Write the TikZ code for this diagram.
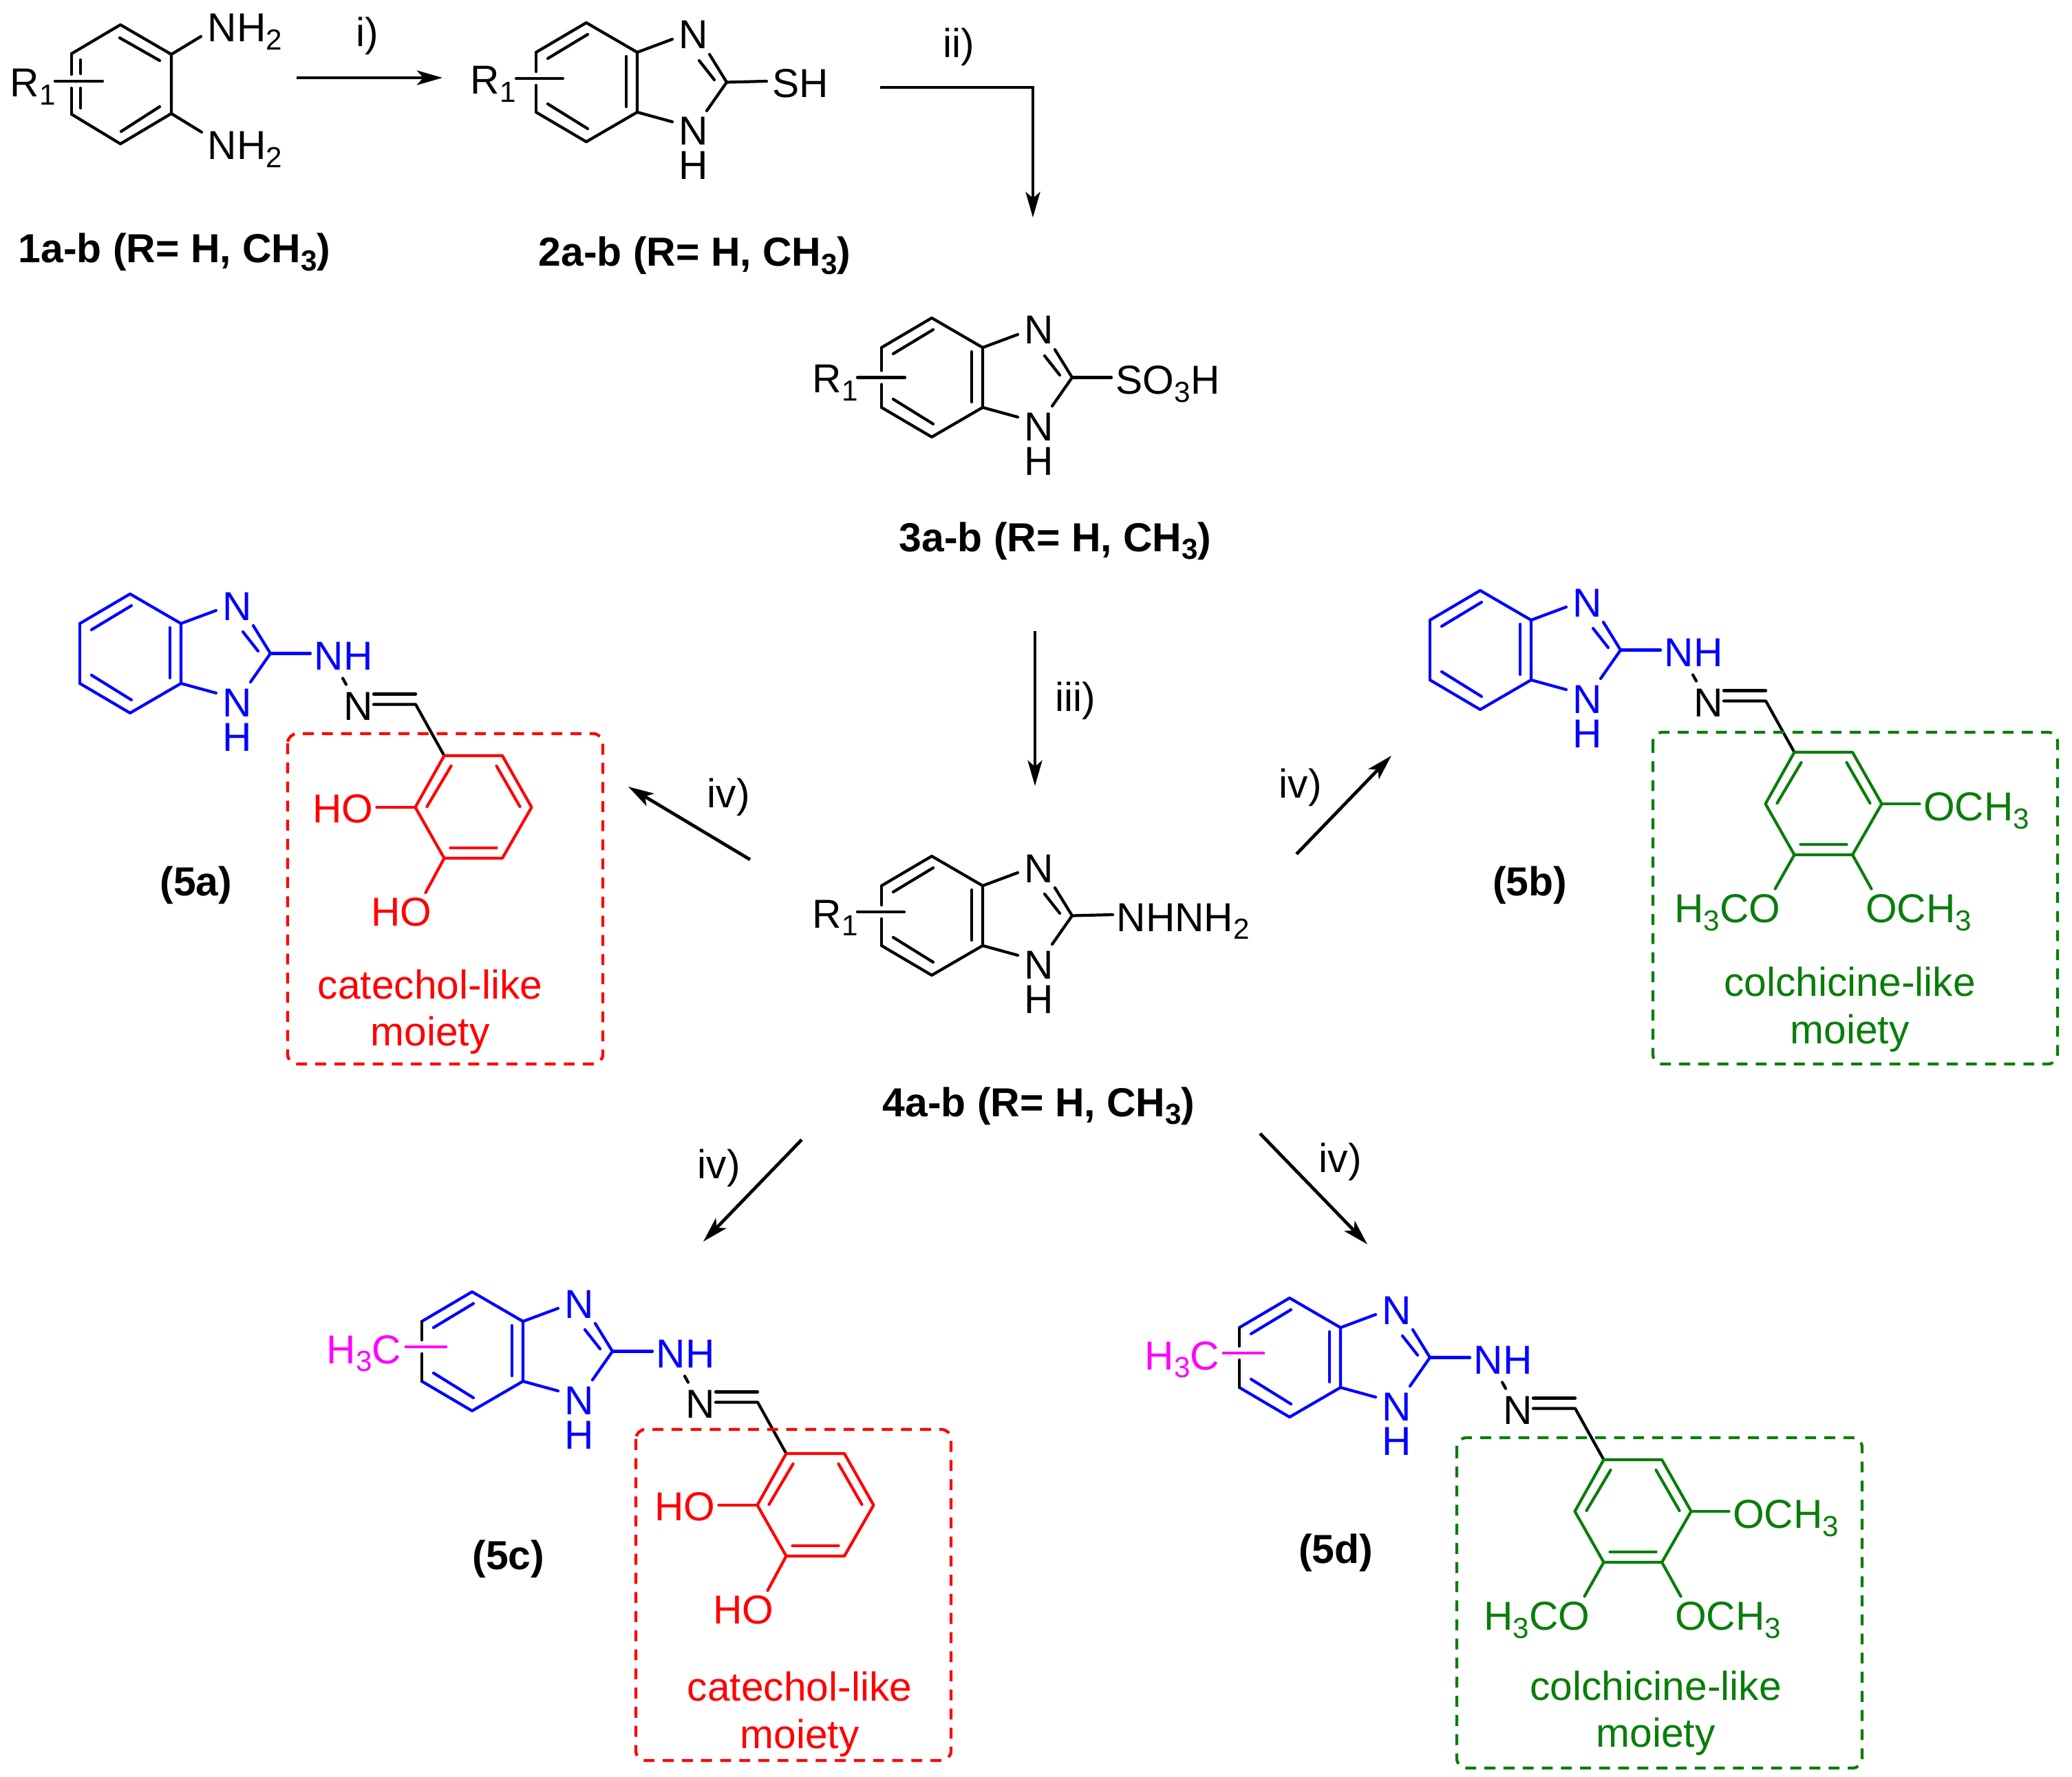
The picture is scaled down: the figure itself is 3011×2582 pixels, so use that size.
\documentclass[tikz,border=0pt]{standalone}
\usepackage{fontspec}
\setmainfont{Liberation Sans}
\usetikzlibrary{arrows.meta}
\definecolor{molblue}{HTML}{0000FF}
\definecolor{molred}{HTML}{FF0000}
\definecolor{molgreen}{HTML}{0A7D0A}
\definecolor{molpink}{HTML}{FF00FF}
\newcommand{\sbs}[1]{\raisebox{-0.2em}{\fontsize{12}{12}\selectfont #1}}
% benzimidazole: name, ring fusion point, colour (left bond of the ring is left out)
\newcommand{\benzim}[3]{
    \begin{scope}[shift={#2},name prefix=#1-,color=#3]
    \coordinate (ur) at (0,0);
    \coordinate (top) at (-74,-43);
    \coordinate (ul) at (-147,0);
    \coordinate (ll) at (-147,87);
    \coordinate (bot) at (-74,130);
    \coordinate (lr) at (0,87);
    \coordinate (c2) at (130,43.5);
    \node[atom] (n3) at (64,-5) {N};
    \node[atom] (n1) at (64,135) {N};
    \node[atom] (h1) at (64,185) {H};
    \draw[bond] (ul) -- (top) -- (ur) -- (lr) -- (bot) -- (ll);
    \draw[bond] (-130,9) -- (-72,-26);
    \draw[bond] (-130,75) -- (-72,111);
    \draw[bond] (-16,6) -- (-16,79);
    \draw[bond] (ur) -- (51,-19);
    \draw[bond] (lr) -- (51,101);
    \draw[bond] (105,3) -- (c2) -- (101,85);
    \draw[bond] (90,12) -- (112,40);
    \end{scope}
}
% left bond of the ring, broken for a substituent: name, height of the line, its two ends
\newcommand{\ringsub}[4]{
    \draw[bond] (#1-ul) -- ++(0,#2-10);
    \draw[bond] (#1-ll) -- ++(0,#2+10-87);
    \draw[bond] ([shift={(#3,#2)}]#1-ur) -- ([shift={(#4,#2)}]#1-ur);
}
% NH-N=CH chain on c2 of a benzimidazole
\newcommand{\hydrazone}[1]{
    \begin{scope}[shift={(#1-c2)},name prefix=#1-]
    \coordinate (a) at (252.5,148.5);
    \node[atom,molblue] (nh) at (67,23.5) {NH};
    \draw[bond,molblue] (0,0) -- (58,0);
    \node[atom] (nn) at (110,97) {N};
    \draw[bond] (105,36) -- (110,45);
    \draw[bond] (150,59) -- (211,59);
    \draw[bond] (150,74) -- (211,74) -- (a);
    \end{scope}
}
% aryl ring hanging on the chain: name, colour
\newcommand{\aryl}[2]{
    \begin{scope}[shift={(#1-a)},name prefix=#1-,color=#2]
    \coordinate (b) at (84.5,0);
    \coordinate (c) at (127,75);
    \coordinate (d) at (84.5,149);
    \coordinate (e) at (0,149);
    \coordinate (f) at (-42,75);
    \draw[bond] (0,0) -- (b) -- (c) -- (d) -- (e) -- (f) -- cycle;
    \draw[bond] (10,15) -- (-25,74);
    \draw[bond] (76,15) -- (110,74);
    \draw[bond] (9,134) -- (76,134);
    \end{scope}
}
\newcommand{\catechol}[1]{
    \aryl{#1}{molred}
    \begin{scope}[shift={(#1-a)},name prefix=#1-,color=molred]
    \node[atom] (oh1) at (-188,97) {HO};
    \node[atom] (oh2) at (-103,247) {HO};
    \draw[bond] (f) -- (-98,75);
    \draw[bond] (e) -- (-27,199);
    \end{scope}
}
\newcommand{\colchicine}[1]{
    \aryl{#1}{molgreen}
    \begin{scope}[shift={(#1-a)},name prefix=#1-,color=molgreen]
    \node[atom] (ome1) at (191,99.5) {OCH\sbs{3}};
    \node[atom] (ome2) at (-171,247.5) {H\sbs{3}CO};
    \node[atom] (ome3) at (107,247.5) {OCH\sbs{3}};
    \draw[bond] (c) -- (182,75);
    \draw[bond] (e) -- (-28,198.5);
    \draw[bond] (d) -- (112,198.5);
    \end{scope}
}

\begin{document}
\begin{tikzpicture}[x=0.01cm,y=-0.01cm,
                    every node/.style={inner sep=0pt,font=\fontsize{16.7}{19}\selectfont},
                    atom/.style={anchor=base west,xshift=-0.04cm},
                    cpdlabel/.style={anchor=base west,xshift=-0.03cm,font=\fontsize{16.75}{19}\selectfont\bfseries},
                    shortlabel/.style={anchor=base,font=\fontsize{16.75}{19}\selectfont\bfseries},
                    moietytext/.style={anchor=base},
                    bond/.style={line width=1.2pt,line cap=round,line join=round},
                    rxn/.style={line width=1.35pt,-{Stealth[length=0.37cm,width=0.21cm,inset=0.09cm]}},
                    moietybox/.style={line width=1.2pt,rounded corners=0.14cm,dash pattern=on 4.5pt off 3.4pt}]
\useasboundingbox (0,0) rectangle (3011,2582);

% 1a-b
\coordinate (p1-top) at (175,36);
\coordinate (p1-ur) at (249,79);
\coordinate (p1-lr) at (249,165);
\coordinate (p1-bot) at (175,209);
\coordinate (p1-ll) at (104,166);
\coordinate (p1-ul) at (104,78);
\draw[bond] (p1-ul) -- (p1-top) -- (p1-ur) -- (p1-lr) -- (p1-bot) -- (p1-ll);
\draw[bond] (p1-ul) -- (104,108);
\draw[bond] (p1-ll) -- (104,128);
\draw[bond] (117,87) -- (117,107);
\draw[bond] (117,128) -- (117,157);
\draw[bond] (174,55) -- (232,88);
\draw[bond] (232,155) -- (176,191);
\draw[bond] (80,118) -- (149,118);
\draw[bond] (p1-ur) -- (292,53);
\draw[bond] (p1-lr) -- (293,192);
\node[atom] (p1-nh1) at (305,61) {NH\sbs{2}};
\node[atom] (p1-nh2) at (305,232) {NH\sbs{2}};
\node[atom] (p1-r) at (18,141) {R\sbs{1}};
\node[cpdlabel] (p1-name) at (29,382) {1a-b (R= H, CH\sbs{3})};

% 2a-b
\benzim{p2}{(926,76)}{black}
\ringsub{p2}{38}{-176}{-108}
\node[atom] (p2-r) at (687,137) {R\sbs{1}};
\node[atom] (p2-sh) at (1126,142) {SH};
\draw[bond] (p2-c2) -- (1114,118);
\node[cpdlabel] (p2-name) at (785,387) {2a-b (R= H, CH\sbs{3})};

% 3a-b
\benzim{p3}{(1428,505)}{black}
\ringsub{p3}{43.5}{-182}{-113}
\node[atom] (p3-r) at (1184,571) {R\sbs{1}};
\node[atom] (p3-so) at (1625,573) {SO\sbs{3}H};
\draw[bond] (p3-c2) -- (1615,548.5);
\node[cpdlabel] (p3-name) at (1309,801) {3a-b (R= H, CH\sbs{3})};

% 4a-b
\benzim{p4}{(1428,1287)}{black}
\ringsub{p4}{38}{-182}{-114}
\node[atom] (p4-r) at (1184,1348) {R\sbs{1}};
\node[atom] (p4-nh) at (1626,1353) {NHNH\sbs{2}};
\draw[bond] (p4-c2) -- (1617,1329);
\node[cpdlabel] (p4-name) at (1285,1622) {4a-b (R= H, CH\sbs{3})};

% 5a
\benzim{p5a}{(263,906)}{molblue}
\draw[bond,molblue] (p5a-ul) -- (p5a-ll);
\hydrazone{p5a}
\catechol{p5a}
\draw[moietybox,molred] (418,1066) rectangle (876,1546);
\node[moietytext,molred] (p5a-t1) at (625,1451) {catechol-like};
\node[moietytext,molred] (p5a-t2) at (625,1519) {moiety};
\node[shortlabel] (p5a-name) at (285,1301) {(5a)};

% 5b
\benzim{p5b}{(2225,901)}{molblue}
\draw[bond,molblue] (p5b-ul) -- (p5b-ll);
\hydrazone{p5b}
\colchicine{p5b}
\draw[moietybox,molgreen] (2402,1064) rectangle (2990,1546);
\node[moietytext,molgreen] (p5b-t1) at (2688,1447) {colchicine-like};
\node[moietytext,molgreen] (p5b-t2) at (2688,1516) {moiety};
\node[shortlabel] (p5b-name) at (2223,1301) {(5b)};

% 5c
\benzim{p5c}{(760,1920)}{molblue}
\ringsub{p5c}{37}{-170}{-112}
\draw[bond,molpink] (590,1957) -- (648,1957);
\node[atom,molpink] (p5c-me) at (478,1981) {H\sbs{3}C};
\hydrazone{p5c}
\catechol{p5c}
\draw[moietybox,molred] (924,2077) rectangle (1382,2558);
\node[moietytext,molred] (p5c-t1) at (1162,2471) {catechol-like};
\node[moietytext,molred] (p5c-t2) at (1162,2540) {moiety};
\node[shortlabel] (p5c-name) at (739,2280) {(5c)};

% 5d
\benzim{p5d}{(1948,1929)}{molblue}
\ringsub{p5d}{37}{-170}{-112}
\draw[bond,molpink] (1778,1966) -- (1836,1966);
\node[atom,molpink] (p5d-me) at (1667,1990) {H\sbs{3}C};
\hydrazone{p5d}
\colchicine{p5d}
\draw[moietybox,molgreen] (2117,2089) rectangle (2706,2569);
\node[moietytext,molgreen] (p5d-t1) at (2406,2470) {colchicine-like};
\node[moietytext,molgreen] (p5d-t2) at (2406,2538) {moiety};
\node[shortlabel] (p5d-name) at (1941,2271) {(5d)};

% reaction arrows
\coordinate (i-s) at (431,113);
\coordinate (i-e) at (643,113);
\coordinate (ii-s) at (1279,127);
\coordinate (ii-m) at (1501,127);
\coordinate (ii-e) at (1501,316);
\coordinate (iii-s) at (1504,917);
\coordinate (iii-e) at (1504,1142);
\coordinate (iva-s) at (1090,1249);
\coordinate (iva-e) at (913,1143);
\coordinate (ivb-s) at (1884,1241);
\coordinate (ivb-e) at (2022,1098);
\coordinate (ivc-s) at (1165,1656);
\coordinate (ivc-e) at (1022,1804);
\coordinate (ivd-s) at (1831,1647);
\coordinate (ivd-e) at (1987,1808);
\draw[rxn] (i-s) -- (i-e);
\draw[rxn] (ii-s) -- (ii-m) -- (ii-e);
\draw[rxn] (iii-s) -- (iii-e);
\draw[rxn] (iva-s) -- (iva-e);
\draw[rxn] (ivb-s) -- (ivb-e);
\draw[rxn] (ivc-s) -- (ivc-e);
\draw[rxn] (ivd-s) -- (ivd-e);
\node[atom] (i-t) at (521,68) {i)};
\node[atom] (ii-t) at (1374,84) {ii)};
\node[atom] (iii-t) at (1537,1033) {iii)};
\node[atom] (iva-t) at (1031,1173) {iv)};
\node[atom] (ivb-t) at (1862,1159) {iv)};
\node[atom] (ivc-t) at (1017,1712) {iv)};
\node[atom] (ivd-t) at (1920,1703) {iv)};
\end{tikzpicture}
\end{document}
